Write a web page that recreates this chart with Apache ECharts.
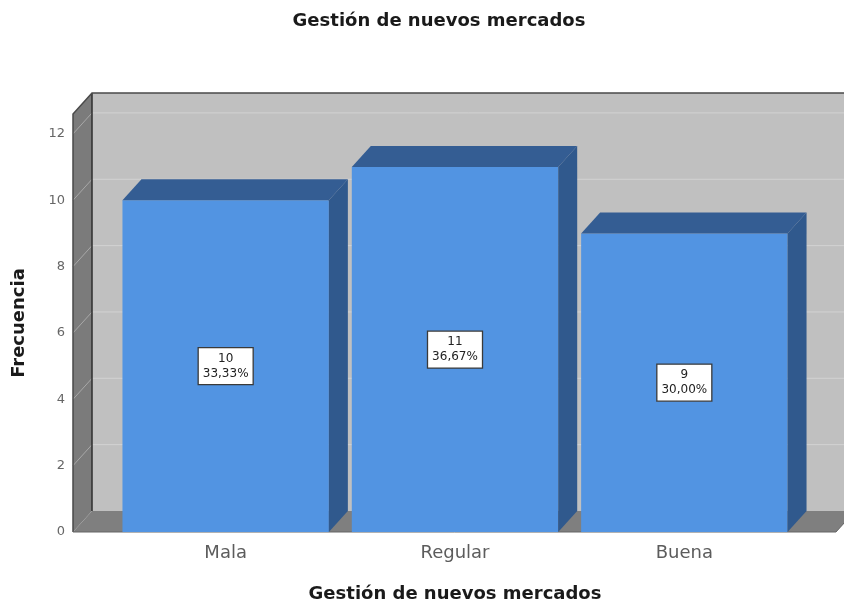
<!DOCTYPE html>
<html>
<head>
<meta charset="utf-8">
<script src="https://cdn.jsdelivr.net/npm/echarts@6/dist/echarts.min.js"></script>
<style>html,body{margin:0;padding:0;background:#fff;}#c{width:844px;height:608px;}</style>
</head>
<body>
<div id="c"></div>
<script>
const categories = ['Mala', 'Regular', 'Buena'];
const frecuencias = [10, 11, 9];
const porcentajes = ['33,33%', '36,67%', '30,00%'];
const yTicks = [2, 4, 6, 8, 10, 12];
const titulo = 'Gestión de nuevos mercados';

const DX = 19, DY = -21;
const FONT = "'DejaVu Sans', 'Liberation Sans', Arial, sans-serif";

function renderBg(params, api) {
  const cs = params.coordSys;
  const y0 = api.coord([0, 0])[1];
  const yT = cs.y;
  const FL = cs.x - 38, FR = cs.x + cs.width + 37;
  const ch = [];
  ch.push({type: 'polygon', shape: {points: [[FL + DX, yT + DY], [FR + DX + 40, yT + DY], [FR + DX + 40, y0 + DY], [FL + DX, y0 + DY]]},
    style: {fill: '#c0c0c0'}});
  ch.push({type: 'polygon', shape: {points: [[FL, yT], [FL + DX, yT + DY], [FL + DX, y0 + DY], [FL, y0]]},
    style: {fill: '#7b7b7b'}});
  yTicks.forEach(function (v) {
    const y = api.coord([0, v])[1];
    ch.push({type: 'polyline', shape: {points: [[FL, y], [FL + DX, y + DY]]}, style: {stroke: '#a8a8a8', lineWidth: 1, fill: null}});
    ch.push({type: 'polyline', shape: {points: [[FL + DX, y + DY], [FR + DX + 40, y + DY]]}, style: {stroke: '#d2d2d2', lineWidth: 1, fill: null}});
  });
  ch.push({type: 'polygon', shape: {points: [[FL, y0], [FR, y0], [FR + DX, y0 + DY], [FL + DX, y0 + DY]]},
    style: {fill: '#7f7f7f'}});
  ch.push({type: 'polyline', shape: {points: [[FL + DX, y0 + DY], [FL + DX, yT + DY]]}, style: {stroke: '#2e2e2e', lineWidth: 1.5, fill: null}});
  ch.push({type: 'polyline', shape: {points: [[FL, y0], [FL, yT], [FL + DX, yT + DY], [FR + DX + 40, yT + DY]]}, style: {stroke: '#4a4a4a', lineWidth: 1.5, fill: null}});
  ch.push({type: 'polyline', shape: {points: [[FL, y0], [FR, y0], [FR + DX, y0 + DY]]}, style: {stroke: '#666', lineWidth: 1, fill: null}});
  return {type: 'group', children: ch};
}

function renderBar(params, api) {
  const idx = api.value(0), v = api.value(1);
  const top = api.coord([idx, v]);
  const base = api.coord([idx, 0]);
  const w = api.size([1, 0])[0] * 0.9;
  const cx = top[0];
  const xl = cx - w / 2, xr = cx + w / 2;
  const yt = top[1], yb = base[1];
  const mid = api.coord([idx, v / 2])[1];
  return {type: 'group', children: [
    {type: 'rect', shape: {x: xl, y: yt, width: w, height: yb - yt}, style: {fill: '#5294e2'}},
    {type: 'polygon', shape: {points: [[xr, yt], [xr + DX, yt + DY], [xr + DX, yb + DY], [xr, yb]]}, style: {fill: '#30598d'}},
    {type: 'polygon', shape: {points: [[xl, yt], [xl + DX, yt + DY], [xr + DX, yt + DY], [xr, yt]]}, style: {fill: '#345d93'}},
    {type: 'rect', shape: {x: cx - 27.5, y: mid - 18.5, width: 55, height: 37}, style: {fill: '#ffffff', stroke: '#3a3a3a', lineWidth: 1.3}},
    {type: 'text', style: {text: String(v) + '\n' + porcentajes[params.dataIndex], x: cx, y: mid, align: 'center', verticalAlign: 'middle',
      fontSize: 12, fontFamily: FONT, fill: '#222', lineHeight: 15}}
  ]};
}

const chart = echarts.init(document.getElementById('c'), null, {renderer: 'canvas'});
chart.setOption({
  backgroundColor: '#ffffff',
  animation: false,
  title: {text: titulo, left: 434, textAlign: 'center', top: 7,
    textStyle: {fontSize: 18, fontWeight: 'bold', color: '#1a1a1a', fontFamily: FONT}},
  grid: {left: 111, right: 45, top: 114, bottom: 76, containLabel: false, outerBoundsMode: 'none'},
  xAxis: {
    type: 'category', data: categories,
    axisLine: {show: false}, axisTick: {show: false}, splitLine: {show: false},
    axisLabel: {fontSize: 18, color: '#5c5c5c', margin: 12, fontFamily: FONT},
    name: titulo, nameLocation: 'middle', nameGap: 53,
    nameTextStyle: {fontSize: 18, fontWeight: 'bold', color: '#1a1a1a', fontFamily: FONT}
  },
  yAxis: {
    type: 'value', min: 0, max: 12.6, interval: 2,
    axisLine: {show: false}, axisTick: {show: false}, splitLine: {show: false},
    axisLabel: {showMaxLabel: false, margin: 46, fontSize: 13, color: '#666', fontFamily: FONT},
    name: 'Frecuencia', nameLocation: 'middle', nameGap: 83,
    nameTextStyle: {fontSize: 18, fontWeight: 'bold', color: '#1a1a1a', fontFamily: FONT}
  },
  series: [
    {type: 'custom', name: 'fondo', renderItem: renderBg, data: [[0, 0]], silent: true, z: 1},
    {type: 'custom', name: 'Frecuencia', renderItem: renderBar, data: frecuencias.map(function (v, i) { return [i, v]; }), z: 2}
  ]
});
</script>
</body>
</html>
